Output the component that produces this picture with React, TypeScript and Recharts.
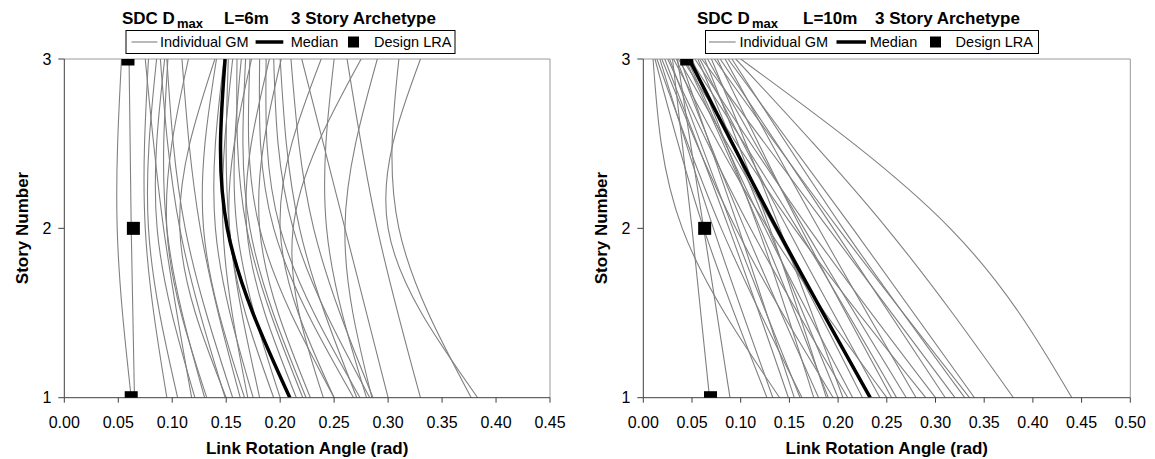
import React from 'react';
import { ComposedChart, Line, XAxis, YAxis, ReferenceLine } from 'recharts';

// ---------- Left chart: L=6m ----------
const leftTicks = [0, 0.05, 0.1, 0.15, 0.2, 0.25, 0.3, 0.35, 0.4, 0.45];
const leftStory3 = [0.053, 0.060, 0.075, 0.078, 0.0855, 0.089, 0.093, 0.095, 0.096, 0.109, 0.115, 0.1395, 0.141, 0.148, 0.152, 0.156, 0.160, 0.164, 0.168, 0.172, 0.1735, 0.181, 0.187, 0.190, 0.194, 0.200, 0.201, 0.210, 0.238, 0.25, 0.262, 0.275, 0.29, 0.31, 0.33, 0.22];
const leftStory2 = [0.049, 0.062, 0.092, 0.075, 0.078, 0.107, 0.086, 0.112, 0.095, 0.126, 0.095, 0.107, 0.129, 0.14, 0.153, 0.147, 0.169, 0.16, 0.172, 0.181, 0.153, 0.194, 0.2, 0.169, 0.212, 0.218, 0.181, 0.231, 0.2, 0.243, 0.29, 0.212, 0.26, 0.31, 0.30, 0.26];
const leftStory1 = [0.062, 0.065, 0.118, 0.095, 0.105, 0.149, 0.121, 0.156, 0.130, 0.163, 0.132, 0.150, 0.167, 0.175, 0.181, 0.170, 0.221, 0.200, 0.224, 0.25, 0.194, 0.268, 0.274, 0.215, 0.283, 0.271, 0.228, 0.286, 0.25, 0.28, 0.33, 0.24, 0.285, 0.377, 0.383, 0.30];
const leftMedian = [0.209, 0.151, 0.149];
const leftDesign = [0.062, 0.064, 0.059];

// ---------- Right chart: L=10m ----------
const rightTicks = [0, 0.05, 0.1, 0.15, 0.2, 0.25, 0.3, 0.35, 0.4, 0.45, 0.5];
const rightStory3 = [0.010, 0.012, 0.014, 0.017, 0.019, 0.022, 0.025, 0.027, 0.030, 0.031, 0.034, 0.035, 0.036, 0.038, 0.040, 0.043, 0.045, 0.048, 0.050, 0.053, 0.056, 0.058, 0.060, 0.063, 0.066, 0.070, 0.073, 0.076, 0.079, 0.084, 0.087, 0.091, 0.095, 0.100];
const rightStory2 = [0.040, 0.062, 0.080, 0.072, 0.095, 0.088, 0.110, 0.092, 0.050, 0.128, 0.104, 0.062, 0.135, 0.098, 0.155, 0.120, 0.125, 0.158, 0.118, 0.170, 0.128, 0.148, 0.190, 0.130, 0.165, 0.140, 0.200, 0.162, 0.195, 0.180, 0.215, 0.205, 0.250, 0.315];
const rightStory1 = [0.140, 0.127, 0.163, 0.133, 0.195, 0.149, 0.210, 0.161, 0.068, 0.250, 0.180, 0.089, 0.225, 0.155, 0.290, 0.190, 0.215, 0.260, 0.175, 0.300, 0.200, 0.243, 0.320, 0.188, 0.270, 0.205, 0.335, 0.255, 0.310, 0.280, 0.340, 0.330, 0.380, 0.440];
const rightMedian = [0.233, 0.137, 0.047];
const rightDesign = [0.069, 0.063, 0.0446];

const STORIES = [1, 2, 3];
const storyTicks = [1, 2, 3];

const FONT = '"Liberation Sans", Arial, sans-serif';
const GM_COLOR = '#808080';

type Pt = { story: number; v: number };
const toSeries = (vals: number[]): Pt[] => STORIES.map((s, i) => ({ story: s, v: vals[i] }));
const buildGM = (s1: number[], s2: number[], s3: number[]): Pt[][] =>
  s1.map((_, i) => toSeries([s1[i], s2[i], s3[i]]));

const squareDot = (props: any) => {
  const { cx, cy, index } = props;
  if (cx == null || cy == null) return <g key={`sq-${index}`} />;
  return <rect key={`sq-${index}`} x={cx - 6.5} y={cy - 6.5} width={13} height={13} fill="#000" />;
};

type PanelProps = {
  width: number;
  marginRight: number;
  xMax: number;
  ticks: number[];
  gm: Pt[][];
  median: number[];
  design: number[];
};

const Panel = ({ width, marginRight, xMax, ticks, gm, median, design }: PanelProps) => (
  <ComposedChart
    width={width}
    height={459}
    layout="vertical"
    margin={{ top: 59, right: marginRight, left: 4.3, bottom: 0 }}
  >
    <XAxis
      type="number"
      domain={[0, xMax]}
      ticks={ticks}
      allowDataOverflow
      tickFormatter={(v: number) => v.toFixed(2)}
      height={61.3}
      tickSize={5}
      tickMargin={14}
      stroke="#404040"
      tick={{ fill: '#000', fontSize: 16, fontFamily: FONT }}
      label={{
        value: 'Link Rotation Angle (rad)',
        position: 'insideBottom',
        offset: 5,
        style: { fontSize: 17, fontWeight: 'bold', fontFamily: FONT, fill: '#000' },
      }}
    />
    <YAxis
      type="number"
      dataKey="story"
      domain={[1, 3]}
      ticks={storyTicks}
      reversed
      allowDataOverflow
      width={60}
      tickSize={6}
      tickMargin={7}
      stroke="#404040"
      tick={{ fill: '#000', fontSize: 16, fontFamily: FONT }}
    />
    <ReferenceLine y={3} stroke="#9a9a9a" strokeWidth={1} ifOverflow="visible" />
    <ReferenceLine x={xMax} stroke="#9a9a9a" strokeWidth={1} ifOverflow="visible" />
    {gm.map((d, i) => (
      <Line
        key={`gm-${i}`}
        data={d}
        dataKey="v"
        type="natural"
        stroke={GM_COLOR}
        strokeWidth={1.1}
        dot={false}
        activeDot={false}
        isAnimationActive={false}
      />
    ))}
    <Line
      data={toSeries(median)}
      dataKey="v"
      type="natural"
      stroke="#000"
      strokeWidth={3.5}
      dot={false}
      activeDot={false}
      isAnimationActive={false}
    />
    <Line
      data={toSeries(design)}
      dataKey="v"
      stroke="none"
      dot={squareDot}
      activeDot={false}
      isAnimationActive={false}
    />
  </ComposedChart>
);

type LegendProps = { x: number; w: number; l1: [number, number]; t1: number; l2: [number, number]; t2: number; sq: number; t3: number };
const LegendBox = ({ x, w, l1, t1, l2, t2, sq, t3 }: LegendProps) => (
  <g fontFamily={FONT} fontSize={14.5} fill="#000">
    <rect x={x} y={30.5} width={w} height={23} fill="#fff" stroke="#000" strokeWidth={1} />
    <line x1={l1[0]} x2={l1[1]} y1={42} y2={42} stroke={GM_COLOR} strokeWidth={1.1} />
    <text x={t1} y={47}>Individual GM</text>
    <line x1={l2[0]} x2={l2[1]} y1={42} y2={42} stroke="#000" strokeWidth={3.5} />
    <text x={t2} y={47}>Median</text>
    <rect x={sq} y={36.5} width={11} height={11} fill="#000" />
    <text x={t3} y={47}>Design LRA</text>
  </g>
);

type TitleProps = { x0: number; xSub: number; xL: number; xS: number; lText: string };
const Title = ({ x0, xSub, xL, xS, lText }: TitleProps) => (
  <g fontFamily={FONT} fontWeight="bold" fill="#000">
    <text x={x0} y={24} fontSize={17}>SDC D</text>
    <text x={xSub} y={28} fontSize={13}>max</text>
    <text x={xL} y={24} fontSize={17}>{lText}</text>
    <text x={xS} y={24} fontSize={17}>3 Story Archetype</text>
  </g>
);

export default function App() {
  const leftGM = buildGM(leftStory1, leftStory2, leftStory3);
  const rightGM = buildGM(rightStory1, rightStory2, rightStory3);
  return (
    <div style={{ position: 'absolute', left: 0, top: 0, width: 1155, height: 459, background: '#fff' }}>
      <div style={{ position: 'absolute', left: 0, top: 0 }}>
        <Panel width={579} marginRight={29} xMax={0.45} ticks={leftTicks} gm={leftGM} median={leftMedian} design={leftDesign} />
      </div>
      <div style={{ position: 'absolute', left: 579, top: 0 }}>
        <Panel width={576} marginRight={24.7} xMax={0.5} ticks={rightTicks} gm={rightGM} median={rightMedian} design={rightDesign} />
      </div>
      <svg width={1155} height={459} style={{ position: 'absolute', left: 0, top: 0, pointerEvents: 'none' }}>
        <Title x0={122} xSub={177} xL={224} xS={291} lText="L=6m" />
        <Title x0={697} xSub={752} xL={803} xS={875} lText="L=10m" />
        <LegendBox x={126} w={329} l1={[131.5, 157.4]} t1={160} l2={[255.6, 283.3]} t2={290.7} sq={348} t3={374} />
        <LegendBox x={705.5} w={333} l1={[709, 735.7]} t1={739.4} l2={[836.5, 866]} t2={869.7} sq={930} t3={955.6} />
        <text x={28} y={228} transform="rotate(-90 28 228)" textAnchor="middle" fontFamily={FONT} fontWeight="bold" fontSize={17} fill="#000">Story Number</text>
        <text x={607} y={228} transform="rotate(-90 607 228)" textAnchor="middle" fontFamily={FONT} fontWeight="bold" fontSize={17} fill="#000">Story Number</text>
      </svg>
    </div>
  );
}
